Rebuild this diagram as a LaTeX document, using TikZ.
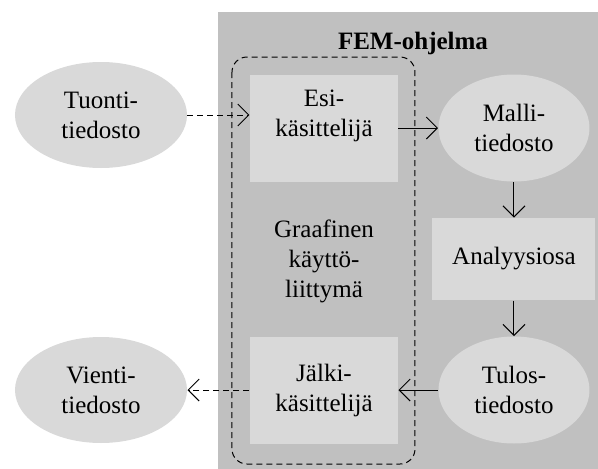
\documentclass[tikz,border=0pt]{standalone}
\usepackage{fontspec}
\setmainfont{Liberation Serif}
\usepackage{tikz}
\usetikzlibrary{positioning,shapes.geometric,arrows.meta}

\definecolor{filegray}{RGB}{217,217,217}
\definecolor{femgray}{RGB}{192,192,192}

\begin{document}
\begin{tikzpicture}[x=1pt,y=1pt,node distance=190pt,on grid,
   >={Straight Barb[length=11pt,width=22pt]},line width=1pt,
   every node/.style={font=\fontsize{25}{30}\selectfont,align=center},
   file/.style={ellipse,fill=filegray,minimum width=151pt,minimum height=107pt,inner sep=0pt},
   unit/.style={rectangle,fill=filegray,minimum width=148pt,minimum height=107pt,inner sep=0pt},
   dashline/.style={dash pattern=on 6pt off 4pt}]
   \useasboundingbox (-324,128) rectangle (274,-341);
   % FEM-ohjelma area and the GUI frame
   \fill[femgray] (-106,116) rectangle (274,-341);
   \draw[dashline,rounded corners=15pt] (-92,71) rectangle (91,-336);
   \node[anchor=base,font=\fontsize{25}{30}\selectfont\bfseries] (fem) at (89,79) {FEM-ohjelma};

   \node[unit](esi) at (0,0) {Esi-\\käsittelijä\\\mbox{}};
   \node[file](malli) [right =of esi] {Malli-\\tiedosto};
   \node[unit,minimum width=163pt,minimum height=82pt](analyysi) [below =131pt of malli] {Analyysiosa};
   \node[file](tulos) [below =131pt of analyysi] {Tulos-\\tiedosto};
   \node[unit](jalki) [left =of tulos] {Jälki-\\käsittelijä};
   \node(gui) [below =133pt of esi] {Graafinen\\käyttö-\\liittymä};
   \node[file,minimum width=172pt,minimum height=106pt](tuonti) [above left =13pt and 223pt of esi] {Tuonti-\\tiedosto};
   \node[file,minimum width=172pt,minimum height=106pt](vienti) [left =223pt of jalki] {Vienti-\\tiedosto};

   \draw[->,dashline] (tuonti) -- (tuonti -| esi.west);
   \draw[->] (esi) -- (malli);
   \draw[->] (malli) -- (analyysi);
   \draw[->] (analyysi) -- (tulos);
   \draw[->] (tulos) -- (jalki);
   \draw[->,dashline] (jalki) -- (vienti);
\end{tikzpicture}
\end{document}
